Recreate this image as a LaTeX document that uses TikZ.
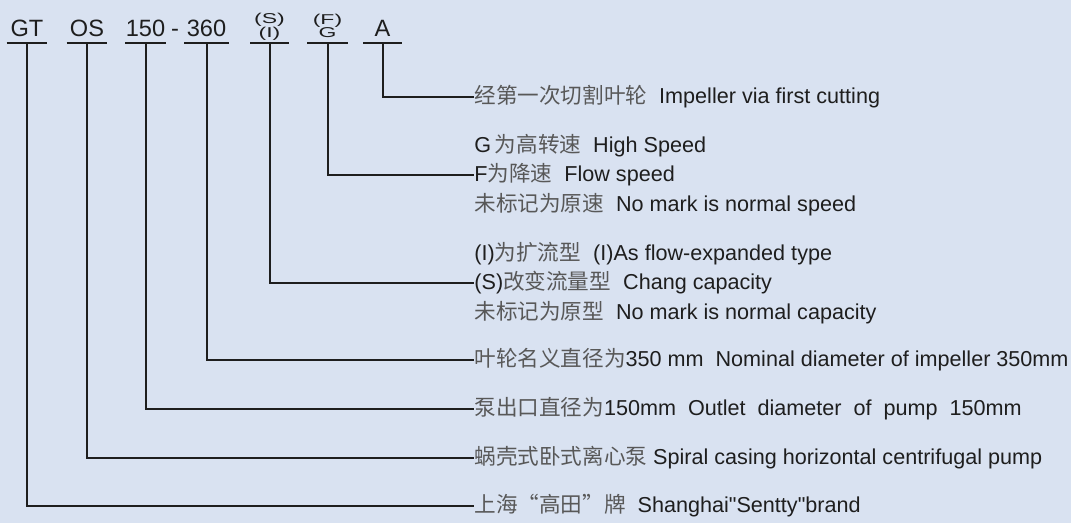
\documentclass[tikz,border=0pt]{standalone}
\usepackage{fontspec}
\setmainfont{Liberation Sans}
\newfontfamily\cjk{Noto Sans CJK SC}
\newfontfamily\qfont{Liberation Sans}
\usetikzlibrary{positioning}
\definecolor{bgblue}{RGB}{217,226,241}
\definecolor{ink}{RGB}{30,30,30}
\definecolor{cngrey}{RGB}{88,88,88}
\newcommand{\cn}[1]{{\cjk\color{cngrey}#1}}
\newcommand{\dq}{{\qfont"}}
\newcommand{\squash}[1]{\scalebox{1}[0.62]{\fontsize{11.5}{9.2}\selectfont\begin{tabular}[b]{@{}c@{}}#1\end{tabular}}}
\tikzstyle{code} = [anchor=south, minimum width=20pt, inner xsep=0pt, inner ysep=3pt, text depth=0pt, font=\fontsize{11.8}{12}\selectfont, text=ink]
\tikzstyle{stack} = [code, inner ysep=2.5pt]
\tikzstyle{desc} = [anchor=west, inner sep=0pt, align=left, font=\fontsize{10.8}{14.75}\selectfont, text=ink]
\tikzstyle{conn} = [draw=ink, line width=1pt]
\begin{document}
\begin{tikzpicture}[x=0.5pt, y=-0.5pt]
\fill [bgblue] (0,0) rectangle (1071,523);
\useasboundingbox (0,0) rectangle (1071,523);

% model code
\node (gt) [code] at (27,43) {GT};
\node (os) [code] at (87,43) {OS};
\node (outd) [code] at (145.5,43) {150};
\node (dash) [code, minimum width=0pt] at (175,43) {-};
\node (impd) [code, minimum width=22pt] at (206.5,43) {360};
\node (flow) [stack, minimum width=19pt] at (269.5,43) {\squash{(S)\\(I)}};
\node (speed) [stack] at (327.5,43) {\squash{(F)\\G}};
\node (cut) [code, minimum width=19pt] at (382.5,43) {A};

% meanings
\node (cutting) [desc] at (474,97) {\cn{经第一次切割叶轮}\ \ Impeller via first cutting};
\node (speeds) [desc] at (474,175) {G\,\cn{为高转速}\ \ High Speed\\F\cn{为降速}\ \ Flow speed\\\cn{未标记为原速}\ \ No mark is normal speed};
\node (caps) [desc] at (474,283) {(I)\cn{为扩流型}\ \ (I)As flow-expanded type\\(S)\cn{改变流量型}\ \ Chang capacity\\\cn{未标记为原型}\ \ No mark is normal capacity};
\node (impeller) [desc] at (474,360) {\cn{叶轮名义直径为}350 mm\ \ Nominal diameter of impeller 350mm};
\node (outlet) [desc] at (474,409) {\cn{泵出口直径为}150mm\ \ Outlet\ \ diameter\ \ of\ \ pump\ \ 150mm};
\node (casing) [desc] at (474,458) {\cn{蜗壳式卧式离心泵} Spiral casing horizontal centrifugal pump};
\node (brand) [desc] at (474,506) {\cn{上海“高田”牌}\ \ Shanghai\dq Sentty\dq brand};

% underlines
\foreach \n in {gt,os,outd,impd,flow,speed,cut}
  \draw [conn] (\n.south west) -- (\n.south east);

% leaders
\draw [conn] (cut.south) |- (cutting.west);
\draw [conn] (speed.south) |- (speeds.west);
\draw [conn] (flow.south) |- (caps.west);
\draw [conn] (impd.south) |- (impeller.west);
\draw [conn] (outd.south) |- (outlet.west);
\draw [conn] (os.south) |- (casing.west);
\draw [conn] (gt.south) |- (brand.west);
\end{tikzpicture}
\end{document}
